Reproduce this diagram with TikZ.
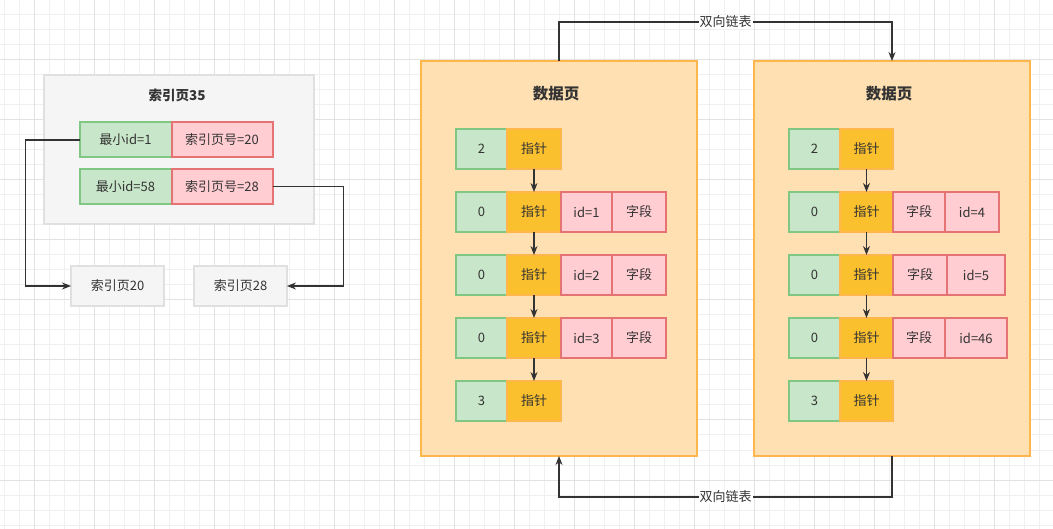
\documentclass[tikz,border=0pt]{standalone}
\usepackage{fontspec}
\setmainfont{Noto Sans CJK SC}
\usetikzlibrary{positioning,arrows.meta}
\definecolor{gridminor}{HTML}{F0F0F0}
\definecolor{gridmajor}{HTML}{E2E2E2}
\definecolor{keyfill}{HTML}{C8E6C9}
\definecolor{keyline}{HTML}{81C784}
\definecolor{fieldfill}{HTML}{FFCDD2}
\definecolor{fieldline}{HTML}{E57373}
\definecolor{ptrfill}{HTML}{FBC02D}
\definecolor{ptrline}{HTML}{FFB74D}
\definecolor{pagefill}{HTML}{FFE0B2}
\definecolor{idxfill}{HTML}{F5F5F5}
\definecolor{idxline}{HTML}{E0E0E0}
\definecolor{ink}{HTML}{333333}
\newcommand{\cellfont}{\fontsize{13pt}{15pt}\selectfont}

\begin{document}
\begin{tikzpicture}[x=1pt,y=-1pt]
                        \tikzstyle{cell}=[outer sep=0pt, inner sep=0pt, line width=2pt, minimum height=40pt, text=ink, font=\cellfont]
                        \tikzstyle{keycell}=[cell, draw=keyline, fill=keyfill, minimum width=51pt]
                        \tikzstyle{ptrcell}=[cell, draw=ptrline, fill=ptrfill, minimum width=54pt]
                        \tikzstyle{fieldcell}=[cell, draw=fieldline, fill=fieldfill, minimum width=51pt]
                        \tikzstyle{pagebox}=[outer sep=0pt, line width=2pt, draw=ptrline, fill=pagefill, minimum width=276pt, minimum height=395pt]
                        \tikzstyle{idxbox}=[outer sep=0pt, line width=2pt, draw=idxline, fill=idxfill, text=ink, font=\cellfont]
                        \tikzstyle{heading}=[text=ink, font=\fontsize{15.5pt}{17pt}\selectfont\bfseries]
                        \tikzstyle{link}=[draw=ink, line width=1.3pt, -{Stealth[length=9pt,width=7pt]}]
                        \tikzstyle{linklabel}=[fill=white, inner sep=1pt, text=ink, font=\cellfont]
                        \useasboundingbox (0,0) rectangle (1053,529);
                        \begin{scope}
                            \clip (0,0) rectangle (1053,529);
                            \fill[white] (0,0) rectangle (1053,529);
                            \draw[gridminor, line width=1pt, xshift=4pt, step=15pt] (-15,-15) grid (1065,545);
                            \draw[gridmajor, line width=1pt, xshift=34pt, step=60pt] (-60,-60) grid (1080,600);
                        \end{scope}

                        \node[idxbox, minimum width=270pt, minimum height=149pt] (idx35) at (179,149.5) {};
                        \node[heading, font=\fontsize{13.5pt}{15pt}\selectfont\bfseries] (idx35title) at (177,95) {索引页35};
                        \node[keycell, minimum width=92pt, minimum height=35pt] (min1) at (125.5,140) {最小id=1};
                        \node[fieldcell, minimum width=101pt, minimum height=35pt, right=0pt of min1] (ptr20) {索引页号=20};
                        \node[keycell, minimum width=92pt, minimum height=35pt] (min58) at (125.5,186.5) {最小id=58};
                        \node[fieldcell, minimum width=101pt, minimum height=35pt, right=0pt of min58] (ptr28) {索引页号=28};
                        \node[idxbox, minimum width=93pt, minimum height=40pt] (idx20) at (117.5,286) {索引页20};
                        \node[idxbox, minimum width=93pt, minimum height=40pt] (idx28) at (240.5,286) {索引页28};
                        \draw[link] (min1.west) -- ++(-54,0) |- (idx20.west);
                        \draw[link] (ptr28.east) -- ++(71,0) |- (idx28.east);

                        \node[pagebox] (page1) at (559,258.5) {};
                        \node[heading] (page1title) at (556,94) {数据页};
                        \node[keycell] (a1) at (481.5,149) {2};
                        \node[ptrcell, right=0pt of a1] (p1) {指针};
                        \node[keycell] (a2) at (481.5,212) {0};
                        \node[ptrcell, right=0pt of a2] (p2) {指针};
                        \node[fieldcell, right=0pt of p2] (r2) {id=1};
                        \node[fieldcell, minimum width=54pt, right=0pt of r2] (s2) {字段};
                        \node[keycell] (a3) at (481.5,275) {0};
                        \node[ptrcell, right=0pt of a3] (p3) {指针};
                        \node[fieldcell, right=0pt of p3] (r3) {id=2};
                        \node[fieldcell, minimum width=54pt, right=0pt of r3] (s3) {字段};
                        \node[keycell] (a4) at (481.5,338) {0};
                        \node[ptrcell, right=0pt of a4] (p4) {指针};
                        \node[fieldcell, right=0pt of p4] (r4) {id=3};
                        \node[fieldcell, minimum width=54pt, right=0pt of r4] (s4) {字段};
                        \node[keycell] (a5) at (481.5,401) {3};
                        \node[ptrcell, right=0pt of a5] (p5) {指针};
                        \draw[link] (p1) -- (p2);
                        \draw[link] (p2) -- (p3);
                        \draw[link] (p3) -- (p4);
                        \draw[link] (p4) -- (p5);

                        \node[pagebox] (page2) at (892,258.5) {};
                        \node[heading] (page2title) at (889,94) {数据页};
                        \node[keycell] (b1) at (814.5,149) {2};
                        \node[ptrcell, minimum width=53pt, right=0pt of b1] (q1) {指针};
                        \node[keycell] (b2) at (814.5,212) {0};
                        \node[ptrcell, minimum width=53pt, right=0pt of b2] (q2) {指针};
                        \node[fieldcell, minimum width=52pt, right=0pt of q2] (t2) {字段};
                        \node[fieldcell, minimum width=54pt, right=0pt of t2] (u2) {id=4};
                        \node[keycell] (b3) at (814.5,275) {0};
                        \node[ptrcell, minimum width=53pt, right=0pt of b3] (q3) {指针};
                        \node[fieldcell, minimum width=54pt, right=0pt of q3] (t3) {字段};
                        \node[fieldcell, minimum width=58pt, right=0pt of t3] (u3) {id=5};
                        \node[keycell] (b4) at (814.5,338) {0};
                        \node[ptrcell, minimum width=53pt, right=0pt of b4] (q4) {指针};
                        \node[fieldcell, minimum width=52pt, right=0pt of q4] (t4) {字段};
                        \node[fieldcell, minimum width=62pt, right=0pt of t4] (u4) {id=46};
                        \node[keycell] (b5) at (814.5,401) {3};
                        \node[ptrcell, minimum width=53pt, right=0pt of b5] (q5) {指针};
                        \draw[link] (q1) -- (q2);
                        \draw[link] (q2) -- (q3);
                        \draw[link] (q3) -- (q4);
                        \draw[link] (q4) -- (q5);

                        \draw[link] (page1.north) -- ++(0,-39) -| node[linklabel, pos=0.25] (toplabel) {双向链表} (page2.north);
                        \draw[link] (page2.south) -- ++(0,41) -| node[linklabel, pos=0.25] (bottomlabel) {双向链表} (page1.south);
                    \end{tikzpicture}
\end{document}
